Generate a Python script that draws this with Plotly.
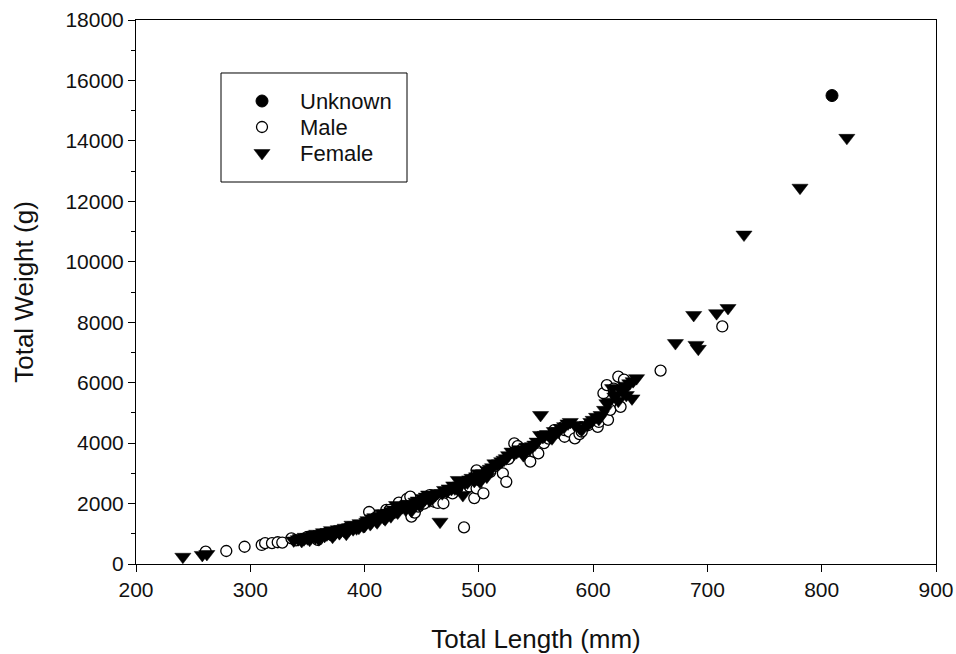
import plotly.graph_objects as go

# Total length (mm) and total weight (g) by sex
unknown_len = [809]
unknown_wt = [15500]

male_len = [261, 279, 295, 310, 313, 319, 324, 328, 336, 340, 346, 350, 356, 359, 362,
            366, 371, 376, 381, 385, 390, 394, 400, 404, 408, 412, 416, 419, 422, 426,
            430, 434, 437, 440, 441, 444, 447, 452, 457, 461, 464, 469, 473, 477, 481,
            487, 492, 495, 496, 498, 498, 500, 504, 510, 516, 521, 524, 526, 531, 534,
            538, 545, 548, 552, 557, 561, 566, 570, 574, 575, 575, 579, 584, 588, 590,
            596, 604, 605, 609, 612, 613, 615, 618, 622, 624, 627, 659, 713]
male_wt = [410, 430, 570, 630, 690, 690, 720, 710, 850, 780, 830, 900, 880, 800, 960,
           1000, 960, 1070, 1120, 1180, 1200, 1240, 1350, 1720, 1480, 1600, 1560, 1790, 1790, 1700,
           2030, 1920, 2150, 2230, 1570, 1700, 1900, 2000, 2280, 2060, 2020, 2010, 2400, 2340, 2500,
           1210, 2560, 2840, 2180, 2500, 3100, 2780, 2340, 3050, 3250, 3000, 2720, 3480, 3990, 3900,
           3800, 3390, 3720, 3660, 4000, 4150, 4430, 4350, 4540, 4210, 4430, 4380, 4160, 4300, 4380,
           4600, 4540, 4700, 5650, 5920, 4770, 5100, 5800, 6200, 5200, 6100, 6400, 7860]

female_len = [241, 258, 262, 338, 342, 344, 345, 347, 348, 350, 352, 353, 355, 357, 358,
              360, 361, 362, 364, 365, 367, 368, 370, 371, 372, 374, 375, 377, 378, 379,
              380, 382, 383, 384, 386, 387, 389, 390, 392, 393, 395, 396, 398, 399, 400,
              402, 403, 405, 406, 407, 409, 410, 411, 413, 414, 416, 417, 418, 420, 421,
              423, 424, 426, 428, 429, 431, 433, 435, 436, 438, 440, 441, 443, 445, 447,
              448, 450, 451, 453, 454, 456, 457, 460, 462, 464, 466, 468, 470, 472, 474,
              476, 478, 479, 481, 482, 484, 486, 488, 490, 492, 494, 496, 498, 500, 501,
              503, 504, 507, 508, 510, 512, 514, 516, 518, 520, 522, 524, 526, 529, 531,
              533, 535, 536, 539, 540, 542, 545, 547, 549, 551, 554, 554, 556, 558, 560,
              562, 564, 566, 570, 572, 575, 578, 580, 584, 588, 590, 595, 598, 600, 603,
              605, 607, 610, 612, 614, 617, 619, 620, 622, 624, 626, 628, 629, 632, 634,
              635, 638, 672, 688, 690, 692, 708, 718, 732, 781, 822]
female_wt = [240, 300, 330, 780, 820, 860, 760, 820, 900, 850, 800, 900, 950, 880, 1000,
             820, 900, 990, 1050, 930, 980, 1060, 1000, 1120, 900, 1000, 1080, 1150, 1020, 1080,
             1160, 1100, 1200, 1000, 1120, 1220, 1300, 1150, 1280, 1180, 1200, 1350, 1330, 1250, 1260,
             1400, 1450, 1320, 1380, 1510, 1550, 1440, 1380, 1560, 1600, 1680, 1520, 1480, 1600, 1700,
             1580, 1750, 1800, 1950, 1700, 1830, 1880, 1900, 1800, 1990, 1980, 1760, 1900, 2060, 2100,
             1950, 2000, 2180, 2150, 2230, 2300, 2100, 2200, 2280, 2350, 1400, 2340, 2450, 2390, 2500,
             2480, 2600, 2500, 2500, 2780, 2600, 2280, 2700, 2700, 2800, 2850, 2750, 2900, 3000, 2720,
             2850, 3000, 2890, 3100, 3150, 3200, 3330, 3300, 3330, 3400, 3450, 3500, 3600, 3720, 3650,
             3700, 3750, 3800, 3600, 3700, 3880, 3830, 3900, 3950, 4050, 4930, 4270, 4200, 4270, 4300,
             4210, 4160, 4400, 4400, 4500, 4560, 4650, 4700, 4600, 4500, 4430, 4600, 4700, 4770, 4870,
             4800, 4930, 5100, 5320, 5370, 5820, 5540, 5600, 5400, 5800, 5700, 5900, 5590, 5980, 5480,
             6050, 6150, 7310, 8240, 7250, 7120, 8300, 8470, 10900, 12450, 14100]

# Legend entries
legend_names = ["Unknown", "Male", "Female"]

FONT = "Liberation Sans, Arial, sans-serif"
INK = "#111111"

circle_filled = dict(symbol="circle", size=12, color="black", line=dict(color="black", width=1))
circle_open = dict(symbol="circle", size=11, color="white", line=dict(color="black", width=1.3))
triangle = dict(symbol="triangle-down", size=14, color="black", line=dict(color="black", width=0.5))
styles = [circle_filled, circle_open, triangle]

fig = go.Figure()
fig.add_trace(go.Scatter(x=unknown_len, y=unknown_wt, mode="markers", name="Unknown",
                         marker=circle_filled, showlegend=False))
fig.add_trace(go.Scatter(x=male_len, y=male_wt, mode="markers", name="Male",
                         marker=circle_open, showlegend=False))
fig.add_trace(go.Scatter(x=female_len, y=female_wt, mode="markers", name="Female",
                         marker=triangle, showlegend=False))

# Legend box drawn on an overlay axis spanning the plot area (0..1 in both directions)
key_x = 0.1575
key_text_x = 0.2025
key_y = [0.8511, 0.8033, 0.7555]
for name, style, ky in zip(legend_names, styles, key_y):
    fig.add_trace(go.Scatter(x=[key_x], y=[ky], mode="markers", marker=style,
                             xaxis="x2", yaxis="y2", showlegend=False, hoverinfo="skip"))
    fig.add_annotation(x=key_text_x, y=ky, xref="x2", yref="y2", text=name,
                       showarrow=False, xanchor="left", yanchor="middle",
                       font=dict(family=FONT, size=22, color=INK))

fig.add_shape(type="rect", xref="paper", yref="paper",
              x0=0.10625, x1=0.33875, y0=0.7022, y1=0.9026,
              line=dict(color="black", width=1), fillcolor="rgba(0,0,0,0)")

fig.update_layout(
    width=956, height=654,
    margin=dict(l=136, r=20, t=20, b=90, autoexpand=False),
    plot_bgcolor="white", paper_bgcolor="white",
    font=dict(family=FONT, size=21, color=INK),
    showlegend=False,
    xaxis=dict(
        range=[200, 900], tickmode="linear", tick0=200, dtick=100,
        ticks="outside", ticklen=7, tickwidth=1, tickcolor="black",
        showline=True, linecolor="black", linewidth=1, mirror=True,
        showgrid=False, zeroline=False, automargin=False,
        tickfont=dict(family=FONT, size=21, color=INK),
        title=dict(text="Total Length (mm)", font=dict(family=FONT, size=26, color=INK), standoff=32),
    ),
    yaxis=dict(
        range=[0, 18000], tickmode="linear", tick0=0, dtick=2000, tickformat="d",
        ticks="outside", ticklen=7, tickwidth=1, tickcolor="black",
        minor=dict(ticks="outside", ticklen=4, dtick=1000, tickcolor="black", showgrid=False),
        showline=True, linecolor="black", linewidth=1, mirror=True,
        showgrid=False, zeroline=False, automargin=False,
        tickfont=dict(family=FONT, size=21, color=INK),
        title=dict(text="Total Weight (g)", font=dict(family=FONT, size=26, color=INK), standoff=24),
    ),
    xaxis2=dict(overlaying="x", range=[0, 1], visible=False, fixedrange=True),
    yaxis2=dict(overlaying="y", range=[0, 1], visible=False, fixedrange=True),
)

fig.write_html("out.html")
